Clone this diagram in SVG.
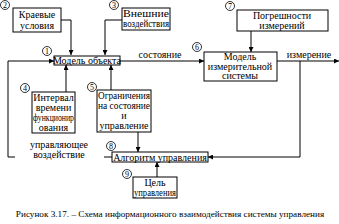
<svg xmlns="http://www.w3.org/2000/svg" width="339" height="224" viewBox="0 0 339 224" font-family="Liberation Serif, DejaVu Serif, serif">
<style>
.b{fill:#fff;stroke:#000;stroke-width:1}
.t{font-family:'Liberation Serif','DejaVu Serif',serif;font-size:10px;fill:#000;text-anchor:middle}
.c{fill:#fff;stroke:#000;stroke-width:0.8}
.n{font-family:'Liberation Serif','DejaVu Serif',serif;font-size:8px;fill:#000;text-anchor:middle}
.l{fill:none;stroke:#000;stroke-width:1}
</style>
<defs>
<marker id="a" viewBox="0 0 6 6" refX="6" refY="3" markerWidth="5" markerHeight="5" orient="auto" markerUnits="userSpaceOnUse"><path d="M0,0L6,3L0,6z" fill="#000"/></marker>
</defs>
<rect width="339" height="224" fill="#fff"/>
<g id="connectors">
<path class="l" d="M61,20H71V55" marker-end="url(#a)"/>
<path class="l" d="M122,20H105V55" marker-end="url(#a)"/>
<path class="l" d="M251,31V52" marker-end="url(#a)"/>
<path class="l" d="M120,61H204" marker-end="url(#a)"/>
<path class="l" d="M277,61H339" marker-end="url(#a)"/>
<path class="l" d="M300,61V157H208" marker-end="url(#a)"/>
<path class="l" d="M66,92V65" marker-end="url(#a)"/>
<path class="l" d="M111,90V65" marker-end="url(#a)"/>
<path class="l" d="M138,132V152" marker-end="url(#a)"/>
<path class="l" d="M157,177V162" marker-end="url(#a)"/>
<path class="l" d="M112,157H104M15,157H8V61H54" marker-end="url(#a)"/>
<text class="t" x="59" y="148">управляющее</text>
<text class="t" x="59" y="158">воздействие</text>
<text class="t" x="160" y="58">состояние</text>
<text class="t" x="309" y="58">измерение</text>
</g>
<g id="n2"><rect class="b" x="13" y="8" width="48" height="24"/><text class="t" x="37" y="18">Краевые</text><text class="t" x="37" y="29">условия</text><circle class="c" cx="5" cy="5" r="4.5"/><text class="n" x="5" y="8">2</text></g>
<g id="n3"><rect class="b" x="122" y="8" width="48" height="22"/><text class="t" x="146" y="17" textLength="46" lengthAdjust="spacingAndGlyphs">Внешние</text><text class="t" x="146" y="27" textLength="46" lengthAdjust="spacingAndGlyphs">воздействия</text><circle class="c" cx="114" cy="5" r="4.5"/><text class="n" x="114" y="8">3</text></g>
<g id="n7"><rect class="b" x="237" y="10" width="91" height="21"/><text class="t" x="282" y="19">Погрешности</text><text class="t" x="282" y="29">измерений</text><circle class="c" cx="230" cy="6" r="4.5"/><text class="n" x="230" y="9">7</text></g>
<g id="n1"><rect class="b" x="54" y="56" width="66" height="9"/><text class="t" x="87" y="64">Модель объекта</text><circle class="c" cx="47" cy="51" r="4.5"/><text class="n" x="47" y="54">1</text></g>
<g id="n6"><rect class="b" x="204" y="52" width="73" height="29"/><text class="t" x="240" y="60">Модель</text><text class="t" x="240" y="69.5">измерительной</text><text class="t" x="240" y="79">системы</text><circle class="c" cx="197" cy="47" r="4.5"/><text class="n" x="197" y="50">6</text></g>
<g id="n4"><rect class="b" x="32" y="92" width="43" height="41"/><text class="t" x="53.5" y="101">Интервал</text><text class="t" x="53.5" y="111">времени</text><text class="t" x="53.5" y="121" textLength="41" lengthAdjust="spacingAndGlyphs">функционир</text><text class="t" x="53.5" y="131">ования</text><circle class="c" cx="25" cy="88" r="4.5"/><text class="n" x="25" y="91">4</text></g>
<g id="n5"><rect class="b" x="97" y="90" width="54" height="42"/><text class="t" x="124" y="99" textLength="52" lengthAdjust="spacingAndGlyphs">Ограничения</text><text class="t" x="124" y="109" textLength="52" lengthAdjust="spacingAndGlyphs">на состояние</text><text class="t" x="124" y="119">и</text><text class="t" x="124" y="129">управление</text><circle class="c" cx="92" cy="87" r="4.5"/><text class="n" x="92" y="90">5</text></g>
<g id="n8"><rect class="b" x="112" y="152" width="96" height="10"/><text class="t" x="160" y="160.5">Алгоритм управления</text><circle class="c" cx="111" cy="146" r="4.5"/><text class="n" x="111" y="149">8</text></g>
<g id="n9"><rect class="b" x="133" y="177" width="44" height="21"/><text class="t" x="155" y="186">Цель</text><text class="t" x="155" y="196" textLength="42" lengthAdjust="spacingAndGlyphs">управления</text><circle class="c" cx="127" cy="174" r="4.5"/><text class="n" x="127" y="177">9</text></g>
<text class="t" x="170" y="217" style="font-size:9.2px">Рисунок 3.17. – Схема информационного взаимодействия системы управления</text>
</svg>
